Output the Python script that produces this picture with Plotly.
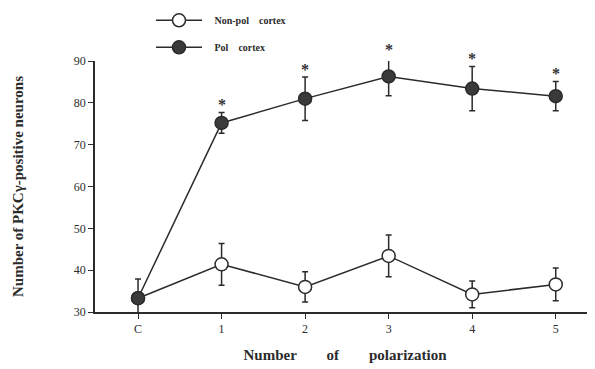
import plotly.graph_objects as go

categories = ["C", "1", "2", "3", "4", "5"]
nonpol_mean = [33.3, 41.4, 36.0, 43.4, 34.2, 36.6]
nonpol_err = [4.6, 5.0, 3.6, 5.0, 3.2, 3.9]
pol_mean = [33.3, 75.2, 81.0, 86.3, 83.4, 81.6]
pol_err = [0.0, 2.5, 5.2, 4.6, 5.3, 3.5]
significant = ["", "*", "*", "*", "*", "*"]

x_idx = list(range(len(categories)))
ink = "#2b2b2b"
fnt = "Liberation Serif"
y_range = [30, 90]

fig = go.Figure()
fig.add_trace(go.Scatter(
    x=x_idx, y=nonpol_mean, name="<b>   Non-pol    cortex</b>", mode="lines+markers",
    legendgroup="a",
    line=dict(color=ink, width=1.5),
    marker=dict(symbol="circle", size=13, color="white", line=dict(color=ink, width=1.5)),
    error_y=dict(type="data", array=nonpol_err, color=ink, thickness=1.5, width=3),
))
fig.add_trace(go.Scatter(
    x=x_idx, y=pol_mean, name="<b>   Pol    cortex</b>", mode="lines+markers",
    legendgroup="b",
    line=dict(color=ink, width=1.5),
    marker=dict(symbol="circle", size=13, color="#3a3a3a", line=dict(color=ink, width=1.5)),
    error_y=dict(type="data", array=pol_err, color=ink, thickness=1.5, width=3),
))

for i, s in enumerate(significant):
    if s:
        top = pol_mean[i] + pol_err[i]
        fig.add_annotation(x=x_idx[i], xref="x", yref="paper",
                           y=(top - y_range[0]) / (y_range[1] - y_range[0]),
                           text="<b>" + s + "</b>", showarrow=False, yanchor="bottom",
                           yshift=-3, font=dict(family=fnt, size=16, color="#333333"))

# page body has an 8px margin, so the figure is drawn 8px right/down; compensate
fig.update_layout(
    width=587, height=361,
    margin=dict(l=87, r=0, t=53, b=57, autoexpand=False),
    paper_bgcolor="white", plot_bgcolor="white",
    font=dict(family=fnt, color=ink, size=12),
    showlegend=True,
    legend=dict(x=0.112, y=1.22, xanchor="left", yanchor="top",
                font=dict(family=fnt, size=10, color=ink),
                bgcolor="rgba(0,0,0,0)", itemwidth=46, tracegroupgap=8,
                traceorder="grouped"),
    xaxis=dict(range=[-0.515, 5.47], tickmode="array", tickvals=x_idx, ticktext=categories,
               showline=True, linecolor=ink, linewidth=1.5, ticks="outside", ticklen=5,
               tickwidth=1.2, tickcolor=ink, showgrid=False, zeroline=False,
               automargin=False,
               tickfont=dict(family=fnt, size=12, color=ink),
               title=dict(text="<b>Number        of        polarization</b>", standoff=14,
                          font=dict(family=fnt, size=15, color=ink))),
    yaxis=dict(range=y_range, tickvals=[30, 40, 50, 60, 70, 80, 90],
               showline=True, linecolor=ink, linewidth=1.5, ticks="outside", ticklen=5,
               tickwidth=1.2, tickcolor=ink, showgrid=False, zeroline=False,
               automargin=False,
               tickfont=dict(family=fnt, size=12, color=ink),
               title=dict(text="<b>Number of PKCγ-positive neurons</b>", standoff=47,
                          font=dict(family=fnt, size=15, color=ink))),
)
fig.update_xaxes(tickprefix="<b>", ticksuffix="</b>")
fig.update_yaxes(tickprefix="<b>", ticksuffix="</b>")
fig.write_html("out.html")
